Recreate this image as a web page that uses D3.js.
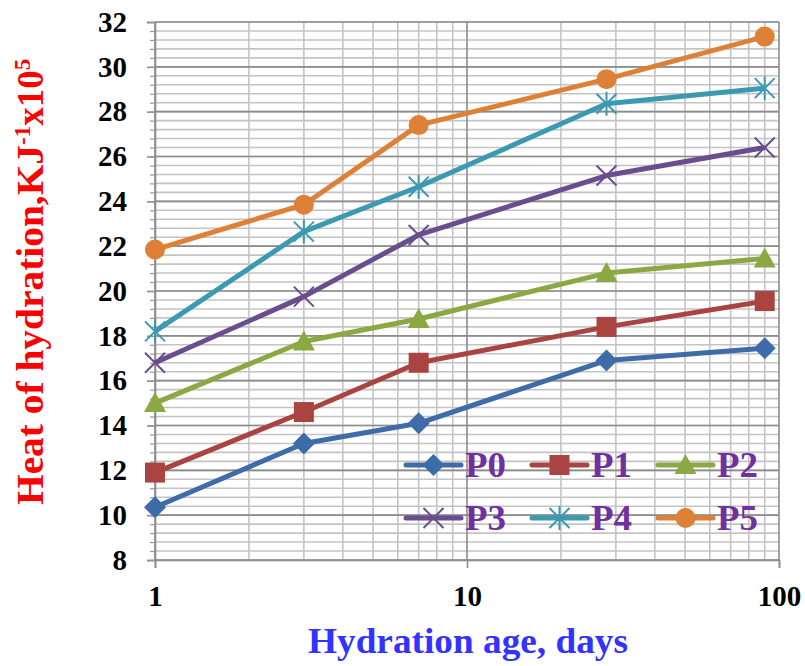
<!DOCTYPE html>
<html><head><meta charset="utf-8">
<script src="https://cdn.jsdelivr.net/npm/d3@7"></script>
<style>body{margin:0;background:#fff}svg{display:block}</style>
</head><body>
<svg id="c" width="805" height="666"></svg>
<script>
const days = [1, 3, 7, 28, 90];
const seriesNames = ["P0", "P1", "P2", "P3", "P4", "P5"];
const P0 = [10.35, 13.2, 14.1, 16.9, 17.45];
const P1 = [11.9, 14.6, 16.8, 18.4, 19.55];
const P2 = [15.0, 17.75, 18.75, 20.8, 21.45];
const P3 = [16.8, 19.75, 22.5, 25.15, 26.4];
const P4 = [18.2, 22.65, 24.65, 28.35, 29.05];
const P5 = [21.85, 23.85, 27.4, 29.45, 31.35];
const colors = ["#3E6CA8", "#A94441", "#8AA942", "#6A4D8E", "#3B9AB0", "#DE8137"];
const markers = ["diamond", "square", "triangle", "x", "star", "circle"];
const yTicks = [8, 10, 12, 14, 16, 18, 20, 22, 24, 26, 28, 30, 32];
const xTicks = [1, 10, 100];
const allSeries = [P0, P1, P2, P3, P4, P5];

const svg = d3.select("#c");
const L = 155, R = 779, T = 22, B = 560;
const x = d3.scaleLog().domain([1, 100]).range([L, R]);
const y = d3.scaleLinear().domain([8, 32]).range([B, T]);
const serif = "'Liberation Serif','Times New Roman',serif";

// minor grid
const g = svg.append("g");
const minorY = d3.range(8, 32.001, 0.4);
g.selectAll(".my").data(minorY).join("line")
  .attr("x1", L).attr("x2", R).attr("y1", d => y(d)).attr("y2", d => y(d))
  .attr("stroke", "#c4c4c4").attr("stroke-width", 1.6);
const minorX = [];
[1, 10].forEach(b => { for (let k = 2; k <= 9; k++) minorX.push(b * k); });
g.selectAll(".mx").data(minorX).join("line")
  .attr("x1", d => x(d)).attr("x2", d => x(d)).attr("y1", T).attr("y2", B)
  .attr("stroke", "#c4c4c4").attr("stroke-width", 1.6);
// major grid
g.selectAll(".My").data(yTicks).join("line")
  .attr("x1", L).attr("x2", R).attr("y1", d => y(d)).attr("y2", d => y(d))
  .attr("stroke", "#8c8c8c").attr("stroke-width", 1.6);
g.selectAll(".Mx").data(xTicks).join("line")
  .attr("x1", d => x(d)).attr("x2", d => x(d)).attr("y1", T).attr("y2", B)
  .attr("stroke", "#8c8c8c").attr("stroke-width", 1.6);

// axes
const yAxis = svg.append("g").attr("transform", `translate(${L},0)`)
  .call(d3.axisLeft(y).tickValues(yTicks).tickSize(8).tickPadding(20).tickFormat(d3.format("d")));
const yMinorAxis = svg.append("g").attr("transform", `translate(${L},0)`)
  .call(d3.axisLeft(y).tickValues(minorY).tickSize(5).tickFormat(""));
yMinorAxis.select(".domain").remove();
yMinorAxis.selectAll("line").attr("stroke", "#999").attr("stroke-width", 1.2);
const xAxis = svg.append("g").attr("transform", `translate(0,${B})`)
  .call(d3.axisBottom(x).tickValues(xTicks).tickSize(8).tickPadding(17).tickFormat(d3.format("d")));
[yAxis, xAxis].forEach(a => {
  a.select(".domain").attr("stroke", "#8c8c8c").attr("stroke-width", 1.6);
  a.selectAll(".tick line").attr("stroke", "#8c8c8c").attr("stroke-width", 1.6);
  a.selectAll("text").attr("font-family", serif).attr("font-weight", "bold")
    .attr("font-size", 29).attr("fill", "#000");
});

// lines and markers
function drawMarker(sel, type, color) {
  if (type === "diamond") sel.append("path").attr("d", "M0,-11L11,0L0,11L-11,0Z").attr("fill", color);
  else if (type === "square") sel.append("rect").attr("x", -10).attr("y", -10).attr("width", 20).attr("height", 20).attr("fill", color);
  else if (type === "triangle") sel.append("path").attr("d", "M0,-11L11,9L-11,9Z").attr("fill", color);
  else if (type === "circle") sel.append("circle").attr("r", 10).attr("fill", color);
  else if (type === "x") sel.append("path").attr("d", "M-10,-10L10,10M-10,10L10,-10").attr("stroke", color).attr("stroke-width", 2).attr("fill", "none");
  else if (type === "star") sel.append("path").attr("d", "M-10,-10L10,10M-10,10L10,-10M0,-12L0,12").attr("stroke", color).attr("stroke-width", 2).attr("fill", "none");
}
const line = d3.line().x(d => x(d[0])).y(d => y(d[1]));
allSeries.forEach((vals, i) => {
  const pts = days.map((d, j) => [d, vals[j]]);
  svg.append("path").datum(pts).attr("d", line).attr("fill", "none")
    .attr("stroke", colors[i]).attr("stroke-width", 5).attr("stroke-linejoin", "round");
  pts.forEach(p => {
    const m = svg.append("g").attr("transform", `translate(${x(p[0])},${y(p[1])})`);
    drawMarker(m, markers[i], colors[i]);
  });
});

// legend
const legX = [406, 532, 658], legY = [465, 518];
seriesNames.forEach((n, i) => {
  const lx = legX[i % 3], ly = legY[Math.floor(i / 3)];
  const lg = svg.append("g").attr("transform", `translate(${lx},${ly})`);
  lg.append("line").attr("x1", 0).attr("x2", 55).attr("stroke", colors[i]).attr("stroke-width", 5).attr("stroke-linecap", "round");
  const m = lg.append("g").attr("transform", "translate(27.5,0)");
  drawMarker(m, markers[i], colors[i]);
  lg.append("text").attr("x", 59).attr("y", 12).text(n)
    .attr("font-family", serif).attr("font-weight", "bold").attr("font-size", 36)
    .attr("textLength", 41).attr("lengthAdjust", "spacingAndGlyphs").attr("fill", "#7030A0");
});

// axis titles
svg.append("text").attr("x", 308).attr("y", 653)
  .attr("font-family", serif).attr("font-weight", "bold").attr("font-size", 35).attr("fill", "#3333FF")
  .attr("textLength", 320).attr("lengthAdjust", "spacingAndGlyphs")
  .text("Hydration age, days");
const yt = svg.append("text").attr("transform", "translate(43,505) rotate(-90)")
  .attr("font-family", serif).attr("font-weight", "bold").attr("font-size", 37).attr("fill", "#FF0000");
yt.append("tspan").text("Heat of hydration,KJ").attr("textLength", 360).attr("lengthAdjust", "spacingAndGlyphs");
yt.append("tspan").text("-1").attr("font-size", 23).attr("dy", -13);
yt.append("tspan").text("x10").attr("dy", 13).attr("font-size", 37);
yt.append("tspan").text("5").attr("font-size", 23).attr("dy", -13);
</script>
</body></html>
